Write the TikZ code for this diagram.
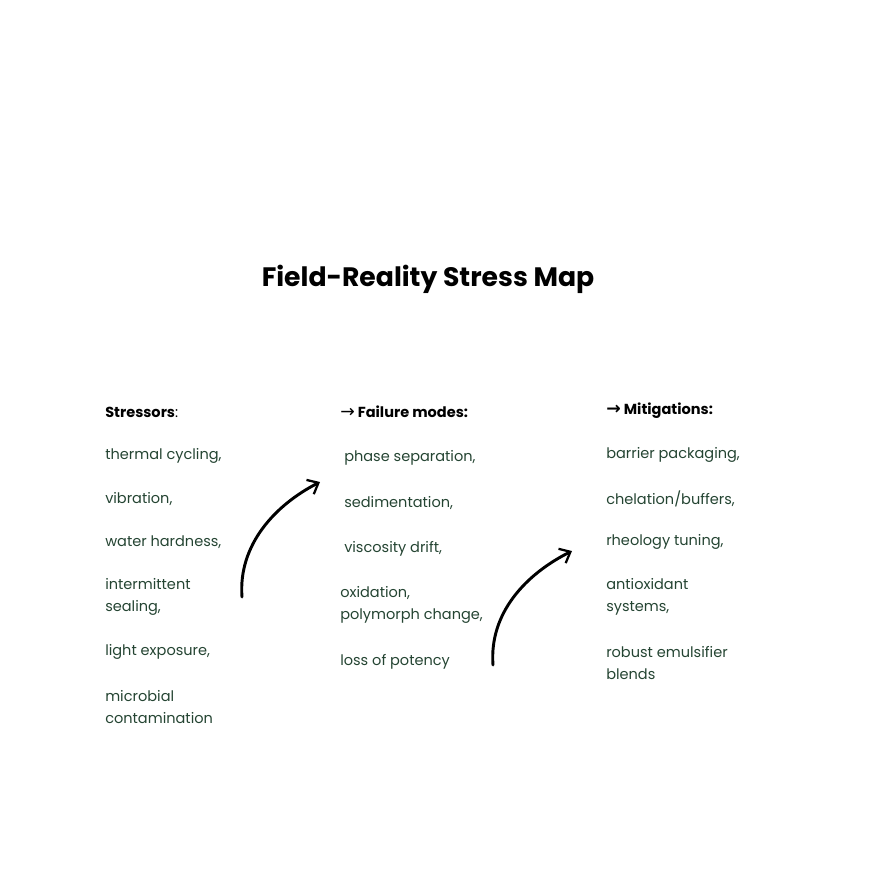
\documentclass[tikz,border=0pt]{standalone}
\usepackage{fontspec}
\setmainfont{Poppins}
\newfontfamily\arrowfont{DejaVu Sans}
\usetikzlibrary{arrows.meta, positioning}
\definecolor{itemgreen}{RGB}{36,68,50}

\begin{document}
\begin{tikzpicture}
                [x=0.75pt, y=-0.75pt,
                every node/.style={anchor=west, inner sep=0pt, font=\fontsize{10.9}{16.5}\selectfont},
                head/.style={font=\fontsize{10.9}{16.5}\selectfont\bfseries, text=black},
                item/.style={text=itemgreen, align=left},
                bend arrow/.style={line width=2.2pt, line cap=round, -{Straight Barb[length=7pt, width=12pt, line width=1.7pt]}}]
                \useasboundingbox (0,0) rectangle (875,875);
                \node[anchor=center, font=\fontsize{20}{24}\selectfont\bfseries] (title) at (428,279) {Field-Reality Stress Map};
                % stressors
                \node[head] (stress) at (105,412) {Stressors\mdseries:};
                \node[item] (thermal) at (105,456) {thermal cycling,};
                \node[item] (vibration) at (105,499) {vibration,};
                \node[item] (water) at (105,542) {water hardness,};
                \node[item] (sealing) at (105,597) {intermittent\\sealing,};
                \node[item] (light) at (105,652) {light exposure,};
                \node[item] (microbial) at (105,707) {microbial\\contamination};
                % failure modes
                \node[head] (failure) at (340,412) {{\arrowfont\mdseries\fontsize{13}{16}\selectfont →} Failure modes:};
                \node[item] (phase) at (344,458) {phase separation,};
                \node[item] (sediment) at (344,503) {sedimentation,};
                \node[item] (viscosity) at (344,549) {viscosity drift,};
                \node[item] (oxidation) at (340,605) {oxidation,\\polymorph change,};
                \node[item] (potency) at (340,662) {loss of potency};
                % mitigations
                \node[head] (mitig) at (606,411) {{\arrowfont\fontsize{13}{16}\selectfont →} Mitigations:};
                \node[item] (barrier) at (606,455) {barrier packaging,};
                \node[item] (chelation) at (606,499) {chelation/buffers,};
                \node[item] (rheology) at (606,542) {rheology tuning,};
                \node[item] (antiox) at (606,597) {antioxidant\\systems,};
                \node[item] (emuls) at (606,663) {robust emulsifier\\blends};
                % hand drawn arrows
                \coordinate (a1) at (242,597);
                \coordinate (b1) at (320,482);
                \coordinate (a2) at (493,665);
                \coordinate (b2) at (572,551);
                \draw[bend arrow] (a1) .. controls (238,545) and (275,505) .. (b1);
                \draw[bend arrow] (a2) .. controls (489,613) and (526,574) .. (b2);
            \end{tikzpicture}
\end{document}
